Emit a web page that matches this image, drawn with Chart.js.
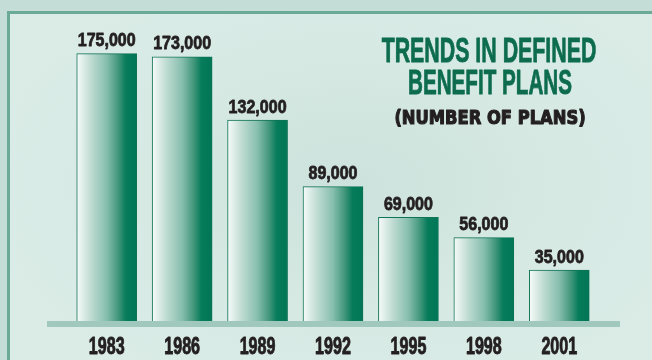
<!DOCTYPE html>
<html><head><meta charset="utf-8">
<script src="https://cdn.jsdelivr.net/npm/chart.js@4.4.1/dist/chart.umd.min.js"></script>
<style>
html,body{margin:0;padding:0;width:652px;height:360px;overflow:hidden;background:#c4ddd6;}
#panel{position:absolute;left:7px;top:11px;width:660px;height:360px;border:3px solid #6aaa96;
 background:radial-gradient(ellipse 380px 230px at 340px 170px,#cde2dc 0%,#d6e9e3 55%,#dbece7 100%);}
#wrap{position:absolute;left:0;top:0;width:652px;height:360px;}
</style></head>
<body>
<div id="panel"></div>
<div id="wrap"><canvas id="c" width="652" height="360"></canvas></div>
<script>
const years = ["1983","1986","1989","1992","1995","1998","2001"];
const plans = [175000,173000,132000,89000,69000,56000,35000];
const titleLines = ["TRENDS IN DEFINED","BENEFIT PLANS"];
const subtitle = "(NUMBER OF PLANS)";

function condText(ctx, text, x, y, sx, stroke){
  ctx.save();
  ctx.translate(x, y);
  ctx.scale(sx, 1);
  if (stroke){
    ctx.lineWidth = stroke;
    ctx.lineJoin = 'round';
    ctx.strokeStyle = ctx.fillStyle;
    ctx.strokeText(text, 0, 0);
  }
  ctx.fillText(text, 0, 0);
  ctx.restore();
}

function barFill(c){
  const chart = c.chart;
  if (!chart.chartArea) return '#007a58';
  const xs = chart.scales.x;
  const cx = xs.getPixelForValue(c.dataIndex);
  const w = 60;
  const g = chart.ctx.createLinearGradient(cx - w/2, 0, cx + w/2, 0);
  g.addColorStop(0,'#f7fbf9');
  g.addColorStop(0.25,'#bcdad0');
  g.addColorStop(0.5,'#86bead');
  g.addColorStop(0.7,'#3f9579');
  g.addColorStop(0.82,'#067c5b');
  g.addColorStop(1,'#007656');
  return g;
}

const decor = {
  id:'decor',
  beforeDatasetsDraw(chart){
    const ctx = chart.ctx;
    const b = chart.chartArea.bottom;
    ctx.save();
    ctx.fillStyle = '#a0c8bd';
    ctx.fillRect(47, b, 573, 6);
    ctx.restore();
  },
  afterDatasetsDraw(chart){
    const ctx = chart.ctx;
    const meta = chart.getDatasetMeta(0);
    const xs = chart.scales.x;
    ctx.save();
    ctx.fillStyle = '#231f20';
    ctx.textAlign = 'center';
    ctx.textBaseline = 'alphabetic';
    ctx.font = 'bold 19px "Liberation Sans", Arial, sans-serif';
    meta.data.forEach((el,i)=>{
      condText(ctx, plans[i].toLocaleString('en-US'), el.x, el.y - 7.5, 0.845, 0.8);
    });
    ctx.font = 'bold 23px "Liberation Sans", Arial, sans-serif';
    years.forEach((y,i)=>{
      condText(ctx, y, xs.getPixelForValue(i), 353.5, 0.70, 0.9);
    });
    // title
    ctx.fillStyle = '#0c6c4d';
    ctx.font = 'bold 35px "Liberation Sans", Arial, sans-serif';
    condText(ctx, titleLines[0], 489, 62, 0.61, 0.8);
    condText(ctx, titleLines[1], 490, 94, 0.59, 0.8);
    ctx.fillStyle = '#231f20';
    ctx.font = 'bold 19px "DejaVu Sans", sans-serif';
    condText(ctx, subtitle, 490, 124, 0.86, 1.2);
    ctx.restore();
  }
};

new Chart(document.getElementById('c'),{
  type:'bar',
  data:{labels:years,datasets:[{data:plans,backgroundColor:barFill,borderColor:'#0f7355',borderWidth:1,barThickness:60}]},
  options:{
    responsive:false,animation:false,
    layout:{padding:{left:69,right:55,top:15,bottom:39}},
    plugins:{legend:{display:false},tooltip:{enabled:false},title:{display:false}},
    scales:{
      x:{display:false,grid:{display:false}},
      y:{display:false,min:2000,max:200000}
    }
  },
  plugins:[decor]
});
</script>
</body></html>
